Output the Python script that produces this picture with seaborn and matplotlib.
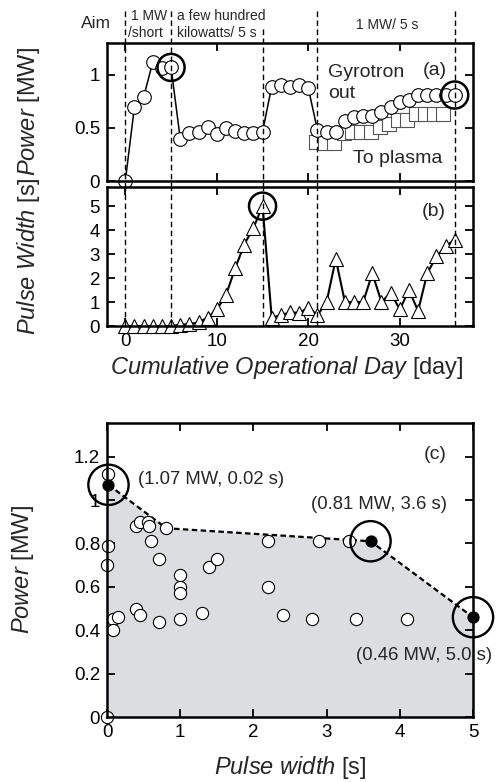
import matplotlib
matplotlib.use("Agg")
import matplotlib.pyplot as plt
import matplotlib.transforms as mtransforms
from matplotlib.ticker import FuncFormatter
import seaborn as sns
import pandas as pd

# ---------------- data ----------------
days = list(range(0, 37))
power_out = [0, 0.70, 0.79, 1.12, 1.06, 1.07,
             0.40, 0.456, 0.465, 0.51, 0.44, 0.50, 0.475, 0.45, 0.45, 0.465,
             0.89, 0.905, 0.89, 0.905, 0.875,
             0.48, 0.46, 0.46, 0.57, 0.60, 0.61, 0.61, 0.65, 0.70, 0.74, 0.76,
             0.81, 0.81, 0.81, 0.81, 0.81]
plasma_days = [20.8, 21.8, 22.8, 23.9, 24.8, 25.8, 26.8, 27.8, 28.8, 29.8,
               30.8, 31.8, 32.8, 33.7, 34.7]
plasma_power = [0.37, 0.355, 0.355, 0.45, 0.465, 0.465, 0.465, 0.51, 0.54,
                0.575, 0.575, 0.635, 0.635, 0.635, 0.635]
pulse_width = [0, 0, 0, 0, 0, 0,
               0.05, 0.08, 0.15, 0.35, 0.69, 1.29, 2.4, 3.4, 4.1, 5.0,
               0.35, 0.45, 0.57, 0.55, 0.77,
               0.45, 1.0, 2.8, 1.0, 1.0, 1.0, 2.2, 1.0, 1.39, 0.69, 1.5, 0.63,
               2.2, 2.9, 3.32, 3.6]
phase_days = [0, 5, 15, 21, 36]
ring_a_days = [5, 36]
ring_a_power = [1.07, 0.81]
ring_b_days = [15]
ring_b_width = [5.0]

c_width = [0, 0.01, 0.01, 0.0, 0.08, 0.15, 0.08, 0.40, 0.45, 0.56, 0.57, 0.81,
           0.60, 0.71, 0.39, 0.45, 0.71, 1.0, 1.0, 1.0, 1.0, 1.30, 1.40, 1.50,
           2.2, 2.2, 2.4, 2.8, 2.9, 3.3, 3.4, 4.1]
c_power = [0, 1.12, 0.79, 0.70, 0.45, 0.46, 0.40, 0.88, 0.90, 0.90, 0.88, 0.87,
           0.81, 0.73, 0.50, 0.47, 0.44, 0.655, 0.60, 0.57, 0.45, 0.48, 0.69,
           0.73, 0.81, 0.60, 0.47, 0.45, 0.81, 0.81, 0.45, 0.45]
peak_width = [0.02, 3.6, 5.0]
peak_power = [1.07, 0.81, 0.46]
peak_labels = ["(1.07 MW, 0.02 s)", "(0.81 MW, 3.6 s)", "(0.46 MW, 5.0 s)"]
env_width = [0.02, 0.81, 3.6, 5.0]
env_power = [1.07, 0.87, 0.81, 0.46]

# ---------------- style ----------------
sns.set_theme(style="ticks")
plt.rcParams['font.family'] = ['Liberation Sans', 'DejaVu Sans']
plt.rcParams['mathtext.fontset'] = 'custom'
plt.rcParams['mathtext.rm'] = 'Liberation Sans'
plt.rcParams['mathtext.it'] = 'Liberation Sans:italic'
plt.rcParams['axes.linewidth'] = 1.8
plt.rcParams['axes.edgecolor'] = 'black'

fig = plt.figure(figsize=(5.01, 7.82), dpi=100)
ax_a = fig.add_axes([0.2136, 0.7685, 0.7305, 0.1765])
ax_b = fig.add_axes([0.2136, 0.5831, 0.7305, 0.1778])
ax_c = fig.add_axes([0.2136, 0.0831, 0.7305, 0.376])

fmt = FuncFormatter(lambda v, p: f"{v:g}")
for ax in (ax_a, ax_b, ax_c):
    ax.tick_params(direction='in', top=True, right=True, length=6, width=1.3,
                   labelsize=13.5, pad=5, colors='black')
    ax.yaxis.set_major_formatter(fmt)
    ax.xaxis.set_major_formatter(fmt)
    ax.set_facecolor('white')

# ---------------- panel (a) ----------------
df_a = pd.DataFrame({"day": days, "power": power_out})
df_sq = pd.DataFrame({"day": plasma_days, "power": plasma_power})
sns.scatterplot(data=df_sq, x="day", y="power", marker='s', s=100,
                facecolor='white', edgecolor='#555555', linewidth=0.8,
                ax=ax_a, zorder=2, clip_on=False)
sns.lineplot(data=df_a, x="day", y="power", sort=False, estimator=None,
             color='black', lw=1.1, marker='o', markersize=9.8,
             markerfacecolor='white', markeredgecolor='black',
             markeredgewidth=0.8, ax=ax_a, zorder=3, clip_on=False)
sns.scatterplot(x=ring_a_days, y=ring_a_power, marker='o', s=19.5 ** 2,
                facecolor='none', edgecolor='black', linewidth=1.8,
                ax=ax_a, zorder=5, clip_on=False)
ax_a.set_xlim(-2, 38)
ax_a.set_ylim(0, 1.3)
ax_a.set_xticks([0, 10, 20, 30])
ax_a.set_yticks([0, 0.5, 1])
ax_a.tick_params(labelbottom=False)
ax_a.set_xlabel("")
ax_a.set_ylabel(r"$\it{Power}$ [MW]", fontsize=17)
ax_a.yaxis.set_label_coords(-0.177, 0.5)
ax_a.text(22.2, 1.02, "Gyrotron", fontsize=14, ha='left', va='center')
ax_a.text(22.2, 0.82, "out", fontsize=14, ha='left', va='center')
ax_a.text(33.8, 1.045, "(a)", fontsize=14, ha='center', va='center')
ax_a.text(29.8, 0.214, "To plasma", fontsize=14, ha='center', va='center')

bt = mtransforms.blended_transform_factory(ax_a.transData, ax_a.transAxes)
ax_a.text(-3.2, 1.143, "Aim", transform=bt, fontsize=12.5, ha='center', va='center')
ax_a.text(0.62, 1.196, "1 MW", transform=bt, fontsize=10, ha='left', va='center')
ax_a.text(0.33, 1.072, "/short", transform=bt, fontsize=10, ha='left', va='center')
ax_a.text(5.66, 1.196, "a few hundred", transform=bt, fontsize=10, ha='left', va='center')
ax_a.text(5.66, 1.072, "kilowatts/ 5 s", transform=bt, fontsize=10, ha='left', va='center')
ax_a.text(28.6, 1.13, "1 MW/ 5 s", transform=bt, fontsize=10, ha='center', va='center')

# ---------------- panel (b) ----------------
df_b = pd.DataFrame({"day": days, "width": pulse_width})
sns.lineplot(data=df_b, x="day", y="width", sort=False, estimator=None,
             color='black', lw=1.5, marker='^', markersize=9.5,
             markerfacecolor='white', markeredgecolor='black',
             markeredgewidth=0.8, ax=ax_b, zorder=3, clip_on=False)
sns.scatterplot(x=ring_b_days, y=ring_b_width, marker='o', s=19.5 ** 2,
                facecolor='none', edgecolor='black', linewidth=1.8,
                ax=ax_b, zorder=5, clip_on=False)
ax_b.set_xlim(-2, 38)
ax_b.set_ylim(0, 5.8)
ax_b.set_xticks([0, 10, 20, 30])
ax_b.set_yticks([0, 1, 2, 3, 4, 5])
ax_b.set_ylabel(r"$\it{Pulse\ Width}$ [s]", fontsize=17)
ax_b.yaxis.set_label_coords(-0.177, 0.5)
ax_b.set_xlabel(r"$\it{Cumulative\ Operational\ Day}$ [day]", fontsize=17)
ax_b.xaxis.set_label_coords(0.49, -0.20)
ax_b.text(33.7, 4.76, "(b)", fontsize=14, ha='center', va='center')

# phase separators
tops = {0: 1.24, 5: 1.24, 15: 1.10, 21: 1.24, 36: 1.24}
for d in phase_days:
    ax_a.axvline(d, ymin=-0.05, ymax=tops[d], color='black', lw=1.0,
                 linestyle=(0, (4, 2.5)), clip_on=False, zorder=6)
    ax_b.axvline(d, ymin=0, ymax=1, color='black', lw=1.0,
                 linestyle=(0, (4, 2.5)), clip_on=False, zorder=6)

# ---------------- panel (c) ----------------
ax_c.fill_between(env_width, env_power, 0, color='#dcdde0', lw=0, zorder=0)
sns.lineplot(x=env_width, y=env_power, sort=False, estimator=None,
             color='black', lw=1.6, linestyle=(0, (2.5, 1.5)), ax=ax_c, zorder=2)
sns.scatterplot(x=c_width, y=c_power, marker='o', s=8.8 ** 2,
                facecolor='white', edgecolor='black', linewidth=0.8,
                ax=ax_c, zorder=3, clip_on=False)
sns.scatterplot(x=peak_width, y=peak_power, marker='o', s=8 ** 2,
                facecolor='black', edgecolor='black', linewidth=0.8,
                ax=ax_c, zorder=4, clip_on=False)
sns.scatterplot(x=peak_width, y=peak_power, marker='o', s=29 ** 2,
                facecolor='none', edgecolor='black', linewidth=1.7,
                ax=ax_c, zorder=5, clip_on=False)
ax_c.set_xlim(0, 5)
ax_c.set_ylim(0, 1.355)
ax_c.set_xticks([0, 1, 2, 3, 4, 5])
ax_c.set_yticks([0, 0.2, 0.4, 0.6, 0.8, 1, 1.2])
ax_c.set_ylabel(r"$\it{Power}$ [MW]", fontsize=17)
ax_c.yaxis.set_label_coords(-0.195, 0.5)
ax_c.set_xlabel(r"$\it{Pulse\ width}$ [s]", fontsize=17)
ax_c.xaxis.set_label_coords(0.5, -0.125)
ax_c.text(0.42, 1.095, peak_labels[0], fontsize=13.3, ha='left', va='center')
ax_c.text(3.71, 0.979, peak_labels[1], fontsize=13.3, ha='center', va='center')
ax_c.text(4.33, 0.285, peak_labels[2], fontsize=13.3, ha='center', va='center')
ax_c.text(4.48, 1.21, "(c)", fontsize=14, ha='center', va='center')

for ax in (ax_a, ax_b, ax_c):
    for s in ax.spines.values():
        s.set_zorder(4)
    leg = ax.get_legend()
    if leg:
        leg.remove()

fig.savefig("out.png", dpi=100)
